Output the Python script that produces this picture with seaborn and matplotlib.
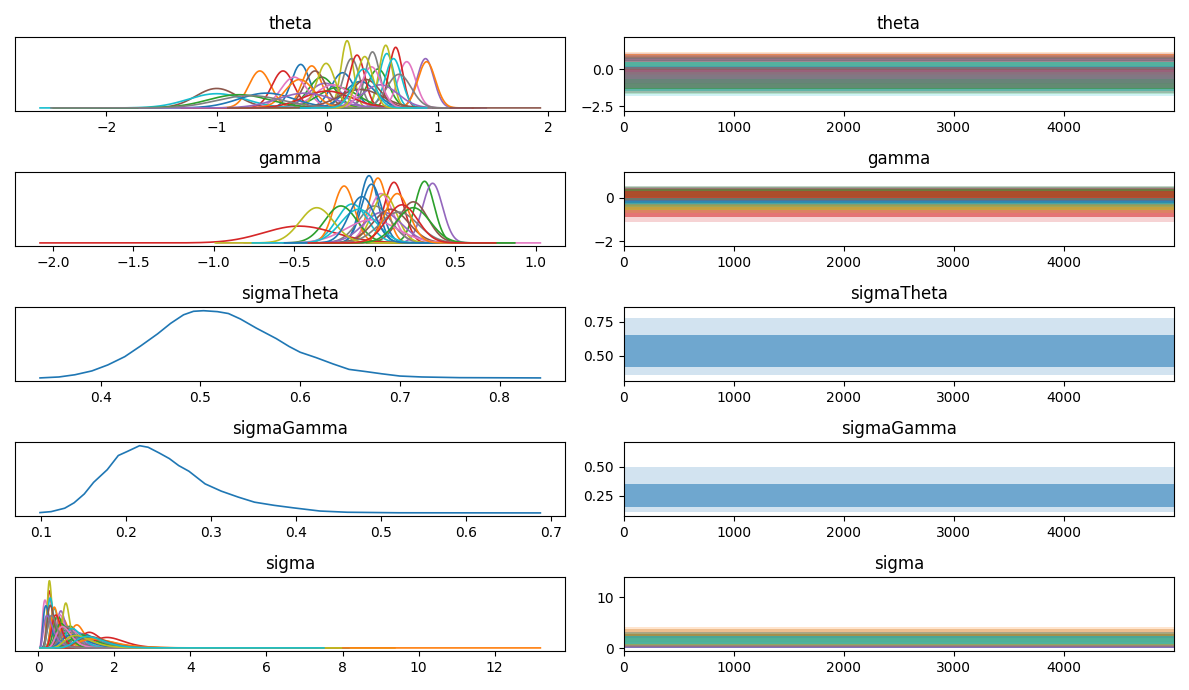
import numpy as np
import pandas as pd
import matplotlib
matplotlib.use("Agg")
import matplotlib.pyplot as plt
import seaborn as sns

# ---------------- data ----------------
n_draws = 5000
palette10 = sns.color_palette("tab10")

# theta: posterior centre / spread of each element
theta_mean = [-0.24, -0.61, 0.46, -0.40, 0.89, -1.00, 0.72, 0.41, 0.18, 0.54,
              0.14, -0.14, -0.05, 0.62, -0.02, -0.11, -0.30, 0.22, 0.53, 0.60,
              0.30, 0.90, 0.10, 0.27, 0.48, 0.35, 0.05, 0.65, -0.01, -1.00,
              -0.55, -0.25, -0.80, 0.00, -0.20, 0.30, 0.40, -0.70, 0.34, 0.33]
theta_sd = [0.085, 0.100, 0.095, 0.100, 0.075, 0.190, 0.080, 0.066, 0.055, 0.068,
            0.105, 0.088, 0.120, 0.061, 0.150, 0.100, 0.120, 0.075, 0.059, 0.075,
            0.140, 0.080, 0.180, 0.070, 0.160, 0.130, 0.160, 0.110, 0.083, 0.260,
            0.250, 0.130, 0.280, 0.220, 0.250, 0.200, 0.090, 0.300, 0.072, 0.095]
theta_range = [-2.60, 1.93]

# gamma
gamma_mean = [-0.035, 0.02, 0.31, 0.12, 0.36, 0.24, 0.04, 0.00, 0.06, -0.14,
              -0.02, -0.19, -0.21, -0.47, 0.05, 0.10, -0.02, 0.15, -0.36, -0.10,
              -0.08, 0.14, 0.24, 0.17]
gamma_sd = [0.055, 0.057, 0.060, 0.061, 0.062, 0.090, 0.075, 0.100, 0.076, 0.095,
            0.063, 0.065, 0.100, 0.220, 0.120, 0.110, 0.160, 0.120, 0.105, 0.110,
            0.080, 0.075, 0.105, 0.097]
gamma_range = [-2.08, 1.03]

# sigmaTheta density (x, relative height)
sigmaTheta_x = [0.339, 0.358, 0.374, 0.391, 0.407, 0.424, 0.440, 0.457, 0.470, 0.483,
                0.493, 0.503, 0.517, 0.528, 0.540, 0.556, 0.576, 0.589, 0.600, 0.616,
                0.633, 0.649, 0.666, 0.682, 0.700, 0.722, 0.760, 0.841]
sigmaTheta_y = [0.000, 0.014, 0.047, 0.104, 0.193, 0.316, 0.476, 0.656, 0.811, 0.939,
                0.991, 1.000, 0.986, 0.958, 0.877, 0.741, 0.585, 0.467, 0.382, 0.302,
                0.208, 0.127, 0.094, 0.061, 0.028, 0.014, 0.004, 0.000]
sigmaTheta_core = [0.42, 0.65]
sigmaTheta_outer = [0.36, 0.78]
sigmaTheta_trace_range = [0.34, 0.83]

# sigmaGamma density
sigmaGamma_x = [0.099, 0.112, 0.128, 0.139, 0.151, 0.162, 0.178, 0.191, 0.201, 0.216,
                0.226, 0.239, 0.251, 0.262, 0.274, 0.293, 0.312, 0.332, 0.351, 0.374,
                0.397, 0.428, 0.460, 0.520, 0.687]
sigmaGamma_y = [0.005, 0.019, 0.070, 0.150, 0.282, 0.455, 0.643, 0.854, 0.911, 1.000,
                0.977, 0.892, 0.808, 0.704, 0.620, 0.432, 0.324, 0.235, 0.160, 0.113,
                0.075, 0.028, 0.010, 0.002, 0.000]
sigmaGamma_core = [0.15, 0.35]
sigmaGamma_outer = [0.11, 0.50]
sigmaGamma_trace_range = [0.10, 0.68]

# sigma: median and log-scale spread per element
sigma_median = [0.40, 0.68, 0.88, 0.31, 0.62, 0.95, 0.22, 0.50, 0.31, 0.34,
                1.25, 1.05, 0.55, 1.40, 1.10, 0.75, 0.60, 1.30, 0.74, 0.45,
                0.25, 0.45, 1.20, 1.90, 0.85, 0.35, 0.95, 0.80, 1.55, 0.95,
                1.00, 1.60, 0.65, 0.50, 0.30, 1.45, 0.70, 0.40, 1.10, 1.40]
sigma_logsd = [0.40, 0.22, 0.23, 0.25, 0.19, 0.25, 0.45, 0.30, 0.21, 0.26,
               0.25, 0.18, 0.25, 0.20, 0.26, 0.28, 0.22, 0.30, 0.13, 0.25,
               0.45, 0.24, 0.28, 0.22, 0.30, 0.30, 0.27, 0.26, 0.30, 0.24,
               0.35, 0.32, 0.28, 0.27, 0.50, 0.27, 0.30, 0.35, 0.33, 0.28]
sigma_range = [0.05, 13.2]

var_names = ["theta", "gamma", "sigmaTheta", "sigmaGamma", "sigma"]


# ---------------- helpers ----------------
def normal_curves(means, sds, rng):
    rows = []
    los = [m - 6 * s for m, s in zip(means, sds)]
    his = [m + 6 * s for m, s in zip(means, sds)]
    los[int(np.argmin(los))] = rng[0]
    his[int(np.argmax(his))] = rng[1]
    for i, (m, s) in enumerate(zip(means, sds)):
        x = np.linspace(max(los[i], rng[0]), min(his[i], rng[1]), 400)
        y = np.exp(-0.5 * ((x - m) / s) ** 2) / (s * np.sqrt(2 * np.pi))
        rows.append(pd.DataFrame({"x": x, "y": y, "p": i}))
    return pd.concat(rows)


def lognormal_curves(meds, lsds, rng):
    rows = []
    his = [m * np.exp(6 * s) for m, s in zip(meds, lsds)]
    his[int(np.argmax(his))] = rng[1]
    for i, (m, s) in enumerate(zip(meds, lsds)):
        x = np.linspace(rng[0], min(his[i], rng[1]), 600)
        y = np.exp(-0.5 * (np.log(x / m) / s) ** 2) / (x * s * np.sqrt(2 * np.pi))
        rows.append(pd.DataFrame({"x": x, "y": y, "p": i}))
    return pd.concat(rows)


def density(ax, df, n):
    pal = [palette10[i % 10] for i in range(n)]
    sns.lineplot(data=df, x="x", y="y", hue="p", palette=pal, legend=False,
                 estimator=None, sort=False, lw=1.2, ax=ax)


def trace_bands(ax, lows_c, highs_c, lows_o, highs_o, colors, rng):
    t = np.array([0, n_draws - 1])
    for lc, hc, lo, ho, c in zip(lows_c, highs_c, lows_o, highs_o, colors):
        ax.fill_between(t, [lo, lo], [ho, ho], color=c, alpha=0.2, lw=0)
        ax.fill_between(t, [lc, lc], [hc, hc], color=c, alpha=0.55, lw=0)
    r = rng[1] - rng[0]
    ax.set_ylim(rng[0] - 0.05 * r, rng[1] + 0.05 * r)


# ---------------- figure ----------------
fig, axes = plt.subplots(5, 2, figsize=(11.89, 6.9), dpi=100)

# theta
th_df = normal_curves(theta_mean, theta_sd, theta_range)
density(axes[0, 0], th_df, len(theta_mean))
cols = [palette10[i % 10] for i in range(len(theta_mean))]
tm, ts = np.array(theta_mean), np.array(theta_sd)
trace_bands(axes[0, 1], tm - 1.8 * ts, tm + 1.8 * ts, tm - 3 * ts, tm + 3 * ts, cols, theta_range)
axes[0, 0].set_xticks([-2, -1, 0, 1, 2])
axes[0, 1].set_yticks([-2.5, 0.0])

# gamma
g_df = normal_curves(gamma_mean, gamma_sd, gamma_range)
density(axes[1, 0], g_df, len(gamma_mean))
cols = [palette10[i % 10] for i in range(len(gamma_mean))]
gm, gs = np.array(gamma_mean), np.array(gamma_sd)
trace_bands(axes[1, 1], gm - 1.8 * gs, gm + 1.8 * gs, gm - 3 * gs, gm + 3 * gs, cols, gamma_range)
axes[1, 0].set_xticks([-2.0, -1.5, -1.0, -0.5, 0.0, 0.5, 1.0])
axes[1, 1].set_yticks([-2, 0])

# sigmaTheta
sns.lineplot(x=sigmaTheta_x, y=sigmaTheta_y, color=palette10[0], lw=1.2, ax=axes[2, 0])
trace_bands(axes[2, 1], [sigmaTheta_core[0]], [sigmaTheta_core[1]],
            [sigmaTheta_outer[0]], [sigmaTheta_outer[1]], [palette10[0]], sigmaTheta_trace_range)
axes[2, 0].set_xticks([0.4, 0.5, 0.6, 0.7, 0.8])
axes[2, 1].set_yticks([0.50, 0.75])

# sigmaGamma
sns.lineplot(x=sigmaGamma_x, y=sigmaGamma_y, color=palette10[0], lw=1.2, ax=axes[3, 0])
trace_bands(axes[3, 1], [sigmaGamma_core[0]], [sigmaGamma_core[1]],
            [sigmaGamma_outer[0]], [sigmaGamma_outer[1]], [palette10[0]], sigmaGamma_trace_range)
axes[3, 0].set_xticks([0.1, 0.2, 0.3, 0.4, 0.5, 0.6, 0.7])
axes[3, 1].set_yticks([0.25, 0.50])

# sigma
s_df = lognormal_curves(sigma_median, sigma_logsd, sigma_range)
density(axes[4, 0], s_df, len(sigma_median))
cols = [palette10[i % 10] for i in range(len(sigma_median))]
sm, ss = np.array(sigma_median), np.array(sigma_logsd)
trace_bands(axes[4, 1], sm * np.exp(-1.8 * ss), sm * np.exp(1.8 * ss),
            sm * np.exp(-3 * ss), sm * np.exp(3 * ss), cols, sigma_range)
axes[4, 0].set_xticks([0, 2, 4, 6, 8, 10, 12])
axes[4, 1].set_yticks([0, 10])

for r, name in enumerate(var_names):
    a0, a1 = axes[r, 0], axes[r, 1]
    a0.set_title(name)
    a1.set_title(name)
    a0.set_yticks([])
    a0.set_xlabel("")
    a0.set_ylabel("")
    a1.set_xlim(0, n_draws - 1)
    a1.set_xticks([0, 1000, 2000, 3000, 4000])
    a1.set_xlabel("")
    a1.set_ylabel("")

fig.tight_layout()
fig.savefig("out.png", dpi=100)
